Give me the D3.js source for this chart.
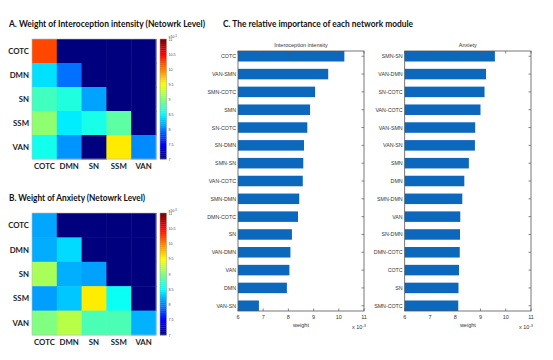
<!DOCTYPE html>
<html><head><meta charset="utf-8">
<script src="https://cdn.jsdelivr.net/npm/d3@7/dist/d3.min.js"></script>
<style>body{margin:0;background:#fff}svg{display:block}</style>
</head><body><svg id="c" width="553" height="360"></svg>
<script>
// ---- data ----
const networks = ["COTC","DMN","SN","SSM","VAN"];
// lower-triangular weight matrices (x10^-3), rows = networks, cols = networks; 0 = not shown
const interoMatrix = [
  [10.22, 0,    0,    0,    0],
  [8.38,  7.94, 0,    0,    0],
  [8.75,  8.62, 8.14, 0,    0],
  [9.06,  8.43, 8.59, 8.86, 0],
  [8.57,  8.08, 6.83, 9.58, 8.04]
];
const anxietyMatrix = [
  [8.15, 0,    0,    0,    0],
  [8.18, 8.36, 0,    0,    0],
  [9.16, 8.19, 8.13, 0,    0],
  [8.12, 8.28, 9.57, 8.54, 0],
  [9.00, 9.22, 8.79, 8.79, 8.20]
];
const colorbarTicks = [7,7.5,8,8.5,9,9.5,10,10.5,11];
const interoLabels = ["COTC","VAN-SMN","SMN-COTC","SMN","SN-COTC","SN-DMN","SMN-SN","VAN-COTC","SMN-DMN","DMN-COTC","SN","VAN-DMN","VAN","DMN","VAN-SN"];
const interoValues = [10.22,9.58,9.06,8.86,8.75,8.62,8.59,8.57,8.43,8.38,8.14,8.08,8.04,7.94,6.83];
const anxietyLabels = ["SMN-SN","VAN-DMN","SN-COTC","VAN-COTC","VAN-SMN","VAN-SN","SMN","DMN","SMN-DMN","VAN","SN-DMN","DMN-COTC","COTC","SN","SMN-COTC"];
const anxietyValues = [9.57,9.22,9.16,9.00,8.79,8.78,8.54,8.36,8.28,8.20,8.19,8.18,8.15,8.13,8.12];
const weightTicks = [6,7,8,9,10,11];

const svg = d3.select("#c");
const jet = d3.scaleLinear()
  .domain([0,0.125,0.375,0.625,0.875,1])
  .range(["#00007f","#0000ff","#00ffff","#ffff00","#ff0000","#7f0000"])
  .interpolate(d3.interpolateRgb).clamp(true);
const cnorm = d3.scaleLinear().domain([7,11]).range([0,1]).clamp(true);
const color = v => jet(cnorm(v));

const titleFont = "Lato, 'Open Sans', 'DejaVu Sans', sans-serif";

function title(x, y, txt, len) {
  svg.append("text").attr("x", x).attr("y", y).attr("font-family", titleFont)
    .attr("font-weight", 700).attr("font-size", 9).attr("fill", "#111")
    .attr("textLength", len).attr("lengthAdjust", "spacingAndGlyphs").text(txt);
}

function heatmap(matrix, x0, y0, w, h) {
  const g = svg.append("g");
  const xs = d3.scaleBand().domain(networks).range([x0, x0 + w]);
  const ys = d3.scaleBand().domain(networks).range([y0, y0 + h]);
  matrix.forEach((row, i) => row.forEach((v, j) => {
    g.append("rect").attr("x", xs(networks[j])).attr("y", ys(networks[i]))
      .attr("width", xs.bandwidth() + 0.5).attr("height", ys.bandwidth() + 0.5)
      .attr("fill", color(v));
  }));
  g.append("rect").attr("x", x0).attr("y", y0).attr("width", w).attr("height", h)
    .attr("fill", "none").attr("stroke", "#bbb").attr("stroke-width", 0.6);
  const lab = (sel) => sel.attr("font-family", titleFont).attr("font-weight", 700)
    .attr("font-size", 7.8).attr("fill", "#222");
  networks.forEach(n => {
    lab(g.append("text")).attr("x", x0 - 3).attr("y", ys(n) + ys.bandwidth() / 2 + 3)
      .attr("text-anchor", "end").text(n);
    lab(g.append("text")).attr("x", xs(n) + xs.bandwidth() / 2).attr("y", y0 + h + 9.5)
      .attr("text-anchor", "middle").text(n);
  });
  // colorbar
  const cx = 160, cw = 6.5;
  const cy = d3.scaleLinear().domain([7, 11]).range([y0 + h, y0]);
  const N = 64;
  for (let k = 0; k < N; k++) {
    const v0 = 7 + 4 * k / N, v1 = 7 + 4 * (k + 1) / N;
    g.append("rect").attr("x", cx).attr("y", cy(v1)).attr("width", cw)
      .attr("height", cy(v0) - cy(v1) + 0.3).attr("fill", color((v0 + v1) / 2));
  }
  g.append("rect").attr("x", cx).attr("y", y0).attr("width", cw).attr("height", h)
    .attr("fill", "none").attr("stroke", "#999").attr("stroke-width", 0.5);
  colorbarTicks.forEach(t => {
    g.append("text").attr("x", cx + cw + 2).attr("y", cy(t) + 1.5)
      .attr("font-family", "Arial, 'Liberation Sans', sans-serif").attr("font-size", 3.6)
      .attr("fill", "#444").text(t);
  });
  const ex = g.append("text").attr("x", cx + cw + 2).attr("y", y0 - 1)
    .attr("font-family", "Arial, 'Liberation Sans', sans-serif").attr("font-size", 3.6).attr("fill", "#444");
  ex.append("tspan").text("x10");
  ex.append("tspan").attr("dy", -1.5).attr("font-size", 2.6).text("-3");
}

title(9, 27, "A. Weight of Interoception intensity (Netowrk Level)", 196);
title(9, 201, "B. Weight of Anxiety (Netowrk Level)", 136);
title(223, 27, "C. The relative importance of each network module", 190);
heatmap(interoMatrix, 32, 39, 124, 120);
heatmap(anxietyMatrix, 32, 213, 124, 122);

function barChart(labels, values, x0, x1, y0, y1, ttl) {
  const g = svg.append("g");
  const small = "Arial, 'Liberation Sans', sans-serif";
  const x = d3.scaleLinear().domain([6, 11]).range([x0, x1]);
  const y = d3.scaleBand().domain(labels).range([y0, y1]).paddingInner(0.41).paddingOuter(0);
  g.selectAll("rect.bar").data(values).join("rect").attr("class", "bar")
    .attr("x", x(6)).attr("y", (d, i) => y(labels[i]))
    .attr("width", d => x(d) - x(6)).attr("height", y.bandwidth())
    .attr("fill", "#0b68bd");
  g.append("rect").attr("x", x0).attr("y", y0).attr("width", x1 - x0).attr("height", y1 - y0)
    .attr("fill", "none").attr("stroke", "#555").attr("stroke-width", 0.8);
  weightTicks.forEach(t => {
    g.append("line").attr("x1", x(t)).attr("x2", x(t)).attr("y1", y1).attr("y2", y1 - 2.5)
      .attr("stroke", "#555").attr("stroke-width", 0.7);
    g.append("line").attr("x1", x(t)).attr("x2", x(t)).attr("y1", y0).attr("y2", y0 + 2.5)
      .attr("stroke", "#555").attr("stroke-width", 0.7);
    g.append("text").attr("x", x(t)).attr("y", y1 + 7.5).attr("text-anchor", "middle")
      .attr("font-family", small).attr("font-size", 5.5).attr("fill", "#333").text(t);
  });
  labels.forEach(l => {
    const cy = y(l) + y.bandwidth() / 2;
    g.append("line").attr("x1", x1).attr("x2", x1 - 2.5).attr("y1", cy).attr("y2", cy)
      .attr("stroke", "#555").attr("stroke-width", 0.7);
    g.append("text").attr("x", x0 - 2).attr("y", cy + 2).attr("text-anchor", "end")
      .attr("font-family", small).attr("font-size", 5.3).attr("fill", "#333").text(l);
  });
  g.append("text").attr("x", (x0 + x1) / 2).attr("y", y0 - 4).attr("text-anchor", "middle")
    .attr("font-family", small).attr("font-size", 5.5).attr("fill", "#333").text(ttl);
  g.append("text").attr("x", (x0 + x1) / 2).attr("y", y1 + 15.5).attr("text-anchor", "middle")
    .attr("font-family", small).attr("font-size", 5.5).attr("fill", "#333").text("weight");
  const ex = g.append("text").attr("x", x1 - 12).attr("y", y1 + 18)
    .attr("font-family", small).attr("font-size", 5.5).attr("fill", "#333");
  ex.append("tspan").text("x 10");
  ex.append("tspan").attr("dy", -2.5).attr("font-size", 4).text("-3");
}

barChart(interoLabels, interoValues, 238, 364, 51, 311, "Interoception intensity");
barChart(anxietyLabels, anxietyValues, 404.7, 531, 51, 311, "Anxiety");
</script></body></html>
